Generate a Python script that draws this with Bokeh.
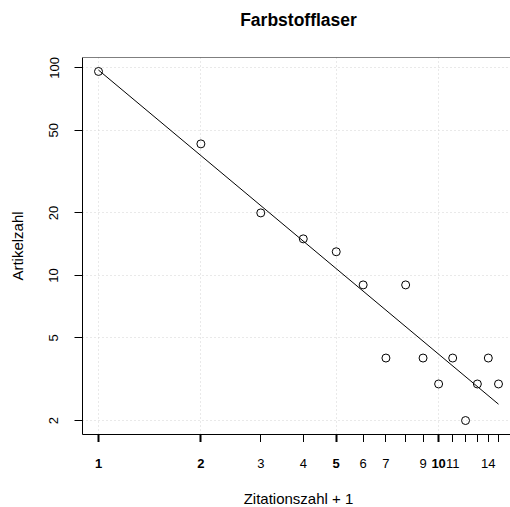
import numpy as np
from bokeh.plotting import figure
from bokeh.layouts import column
from bokeh.models import FixedTicker, BasicTickFormatter, Span, Range1d
from bokeh.core.properties import value
from bokeh.embed import file_html
from bokeh.resources import INLINE

# ---- data -------------------------------------------------------------
zitationen = [1, 2, 3, 4, 5, 6, 7, 8, 9, 10, 11, 12, 13, 14, 15]   # Zitationszahl + 1
artikel = [96, 43, 20, 15, 13, 9, 4, 9, 4, 3, 4, 2, 3, 4, 3]       # Artikelzahl

x_major_ticks = [1, 2, 5, 10]
x_major_labels = ["1", "2", "5", "10"]
x_minor_ticks = [3, 4, 6, 7, 8, 9, 11, 12, 13, 14, 15]
x_minor_labels = ["3", "4", "6", "7", "", "9", "11", "", "", "14", ""]
y_ticks = [2, 5, 10, 20, 50, 100]

title_text = "Farbstofflaser"
x_title = "Zitationszahl + 1"
y_title = "Artikelzahl"

FONT = "Liberation Sans"

# ---- ranges (R style: data range + 4 % on log scale) --------------------
lx = np.log10(zitationen)
ly = np.log10(artikel)
x_lo = lx.min() - 0.04 * (lx.max() - lx.min())
x_hi_full = lx.max() + 0.04 * (lx.max() - lx.min())
y_lo = ly.min() - 0.04 * (ly.max() - ly.min())
y_hi = ly.max() + 0.04 * (ly.max() - ly.min())

W = 510
ML = 82
TOP_H = 56          # strip holding the title
FRAME_H = 377
TICK_OUT = 8
BOT_H = 65          # strip holding tick labels and axis title
frame_w = W - ML
full_w = 432        # frame width of the original (extends past the window)
x_hi = x_lo + (x_hi_full - x_lo) * frame_w / full_w
x_center = 10 ** ((x_lo + x_hi_full) / 2)

x_range = Range1d(10 ** x_lo, 10 ** x_hi)


def strip(height):
    f = figure(width=W, height=height, x_axis_type="log", title=None,
               x_range=x_range, y_range=Range1d(0, height),
               x_axis_location=None, y_axis_location=None,
               output_backend="svg", toolbar_location=None,
               min_border_left=ML, min_border_right=0,
               min_border_top=0, min_border_bottom=0)
    f.grid.visible = False
    f.outline_line_color = None
    f.background_fill_color = "white"
    f.border_fill_color = "white"
    return f


# ---- title strip ----------------------------------------------------------
t = strip(TOP_H)
t.text(x=[x_center], y=[TOP_H - 19.7], text=[title_text],
       text_align="center", text_baseline="middle",
       text_font=value(FONT), text_font_size="17.5px",
       text_font_style="bold", text_color="black")

# ---- main plot ------------------------------------------------------------
p = figure(width=W, height=1 + FRAME_H + TICK_OUT, title=None,
           x_axis_type="log", y_axis_type="log",
           x_range=x_range,
           y_range=Range1d(10 ** y_lo, 10 ** y_hi),
           output_backend="svg", toolbar_location=None,
           min_border_left=ML, min_border_right=0,
           min_border_top=1, min_border_bottom=TICK_OUT)
p.background_fill_color = "white"
p.border_fill_color = "white"
p.outline_line_color = None

p.xgrid.ticker = FixedTicker(ticks=x_major_ticks)
for g in (p.xgrid, p.ygrid):
    g.grid_line_color = "#d3d3d3"
    g.grid_line_dash = "1 3"
    g.grid_line_width = 1

xa = p.xaxis[0]
xa.ticker = FixedTicker(ticks=x_major_ticks, minor_ticks=x_minor_ticks)
xa.formatter = BasicTickFormatter()
xa.major_tick_out = TICK_OUT
xa.major_tick_in = 0
xa.minor_tick_out = TICK_OUT
xa.minor_tick_in = 0
xa.major_tick_line_width = 2
xa.minor_tick_line_width = 1
xa.major_tick_line_color = "black"
xa.minor_tick_line_color = "black"
xa.axis_line_color = "black"
# tick labels of this axis are drawn in the strip below
xa.major_label_text_font_size = "0px"
xa.major_label_text_color = None
xa.major_label_standoff = 0

ya = p.yaxis[0]
ya.ticker = FixedTicker(ticks=y_ticks, minor_ticks=[])
ya.formatter = BasicTickFormatter()
ya.major_tick_out = TICK_OUT
ya.major_tick_in = 0
ya.minor_tick_out = 0
ya.minor_tick_in = 0
ya.major_tick_line_color = "black"
ya.axis_line_color = "black"
ya.major_label_orientation = "vertical"
ya.major_label_text_font = FONT
ya.major_label_text_font_size = "13px"
ya.major_label_text_color = "black"
ya.major_label_standoff = 16
ya.axis_label = y_title
ya.axis_label_text_font = FONT
ya.axis_label_text_font_size = "15px"
ya.axis_label_text_font_style = "normal"
ya.axis_label_text_color = "black"
ya.axis_label_standoff = 21

# top box line
p.add_layout(Span(location=10 ** y_hi, dimension="width",
                  line_color="black", line_width=1))

# regression line (log-log least squares)
slope, intercept = np.polyfit(lx, ly, 1)
fx = np.array([min(zitationen), max(zitationen)], dtype=float)
fy = 10 ** (intercept + slope * np.log10(fx))
p.line(fx, fy, line_color="black", line_width=1)

# points
p.scatter(zitationen, artikel, marker="circle", size=8,
          fill_color=None, line_color="black", line_width=1)

# ---- bottom strip: x tick labels and axis title ------------------------------
q = strip(BOT_H)
LABEL_Y = BOT_H - 20.5
q.text(x=x_major_ticks, y=[LABEL_Y] * len(x_major_ticks), text=x_major_labels,
       text_align="center", text_baseline="middle",
       text_font=value(FONT), text_font_size="13px", text_font_style="bold",
       text_color="black")
q.text(x=x_minor_ticks, y=[LABEL_Y] * len(x_minor_ticks), text=x_minor_labels,
       text_align="center", text_baseline="middle",
       text_font=value(FONT), text_font_size="13px", text_color="black")
q.text(x=[x_center], y=[BOT_H - 56], text=[x_title],
       text_align="center", text_baseline="middle",
       text_font=value(FONT), text_font_size="15px", text_color="black")

layout = column(t, p, q, spacing=0)
open("out.html", "w").write(file_html(layout, INLINE))
